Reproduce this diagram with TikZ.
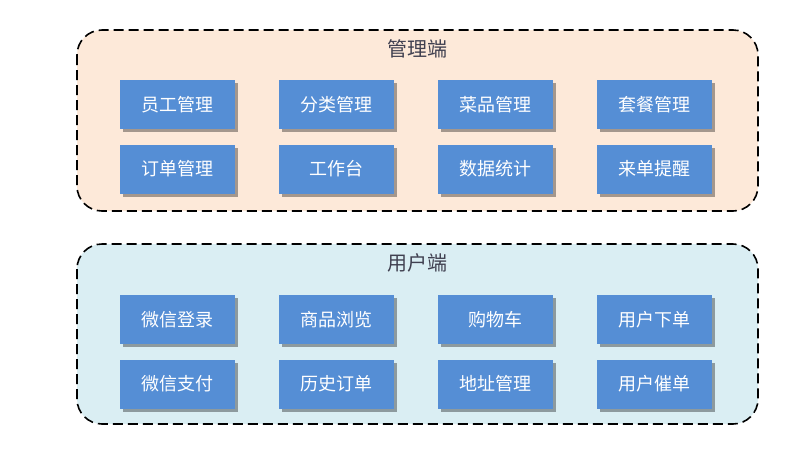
\documentclass[tikz,border=0pt]{standalone}
\usepackage{fontspec}
\setmainfont{Noto Sans CJK SC}
\usepackage{tikz}
\usetikzlibrary{shadows}

\definecolor{boxblue}{HTML}{558ED5}
\definecolor{adminbg}{HTML}{FDE9D9}
\definecolor{userbg}{HTML}{DAEEF3}
\definecolor{titlegray}{HTML}{404050}

\tikzset{
  modbox/.style={draw=none,fill=boxblue,rectangle,minimum width=115pt,minimum height=49pt,
    text=white,font=\fontsize{18}{21}\selectfont,inner sep=0pt,
    drop shadow={shadow xshift=3pt,shadow yshift=-3pt,fill=black,opacity=0.35}},
  groupbox/.style={draw=black,line width=1.6pt,dash pattern=on 10pt off 5pt,rounded corners=25pt},
  grouptitle/.style={text=titlegray,font=\fontsize{20}{23}\selectfont}
}

\begin{document}
\begin{tikzpicture}[x=1pt,y=-1pt]
\useasboundingbox (0,0) rectangle (800,456);
% 管理端
\draw[groupbox,fill=adminbg] (77,30) rectangle (758,211);
\node[grouptitle] (t1) at (417.5,49) {管理端};
\node[modbox] (n1) at (177.5,104.5) {员工管理};
\node[modbox] (n2) at (336.5,104.5) {分类管理};
\node[modbox] (n3) at (495.5,104.5) {菜品管理};
\node[modbox] (n4) at (654.5,104.5) {套餐管理};
\node[modbox] (n5) at (177.5,169) {订单管理};
\node[modbox] (n6) at (336.5,169) {工作台};
\node[modbox] (n7) at (495.5,169) {数据统计};
\node[modbox] (n8) at (654.5,169) {来单提醒};
% 用户端
\draw[groupbox,fill=userbg] (77,244) rectangle (758,424);
\node[grouptitle] (t2) at (417.5,263) {用户端};
\node[modbox] (m1) at (177.5,319.5) {微信登录};
\node[modbox] (m2) at (336.5,319.5) {商品浏览};
\node[modbox] (m3) at (495.5,319.5) {购物车};
\node[modbox] (m4) at (654.5,319.5) {用户下单};
\node[modbox] (m5) at (177.5,384) {微信支付};
\node[modbox] (m6) at (336.5,384) {历史订单};
\node[modbox] (m7) at (495.5,384) {地址管理};
\node[modbox] (m8) at (654.5,384) {用户催单};
\end{tikzpicture}
\end{document}
